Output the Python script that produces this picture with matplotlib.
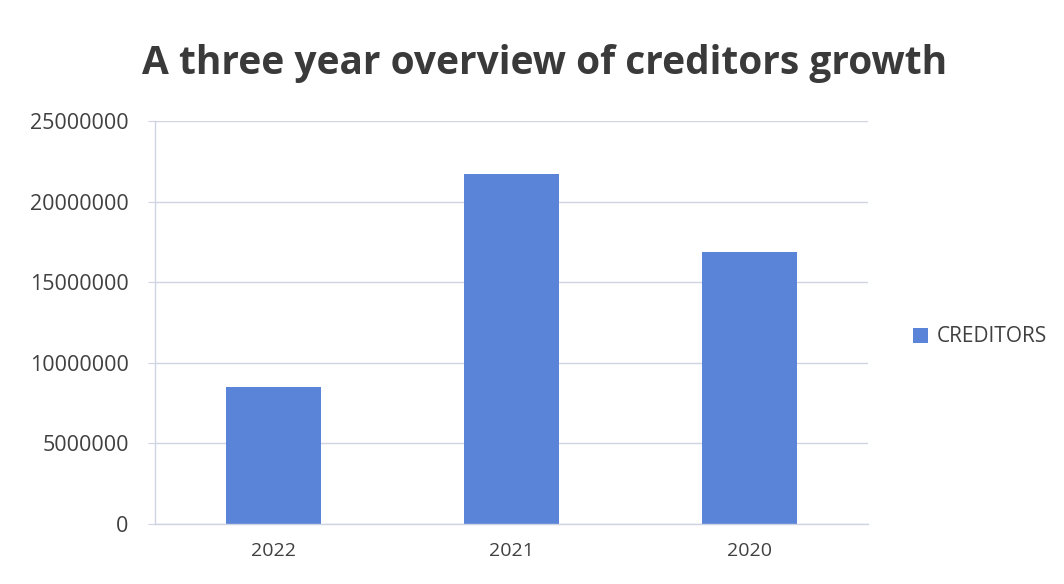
"""Creditors balance over three years, one bar per year."""
import matplotlib

matplotlib.use("Agg")
import matplotlib.pyplot as plt
from matplotlib.patches import Patch
from matplotlib.ticker import FuncFormatter, MultipleLocator

years = ["2022", "2021", "2020"]
creditors = [8500000, 21700000, 16900000]
series_name = "CREDITORS"
title = "A three year overview of creditors growth"

BAR = "#5A84D8"
TEXT = "#404040"
GRID = "#cfd3e2"

plt.rcParams["font.family"] = ["Open Sans", "DejaVu Sans"]

fig = plt.figure(figsize=(10.64, 5.84), dpi=100)
ax = fig.add_axes([0.1457, 0.1027, 0.670, 0.690])

x = range(len(years))
ax.bar(x, creditors, width=0.40, color=BAR, zorder=2)

ax.set_xlim(-0.5, len(years) - 0.5)
ax.set_ylim(0, 25000000)
ax.yaxis.set_major_locator(MultipleLocator(5000000))
ax.yaxis.set_major_formatter(FuncFormatter(lambda v, _: f"{int(v)}"))
ax.set_xticks(list(x))
ax.set_xticklabels(years)

ax.grid(axis="y", color=GRID, linewidth=1.0, zorder=0)
for side in ("top", "right"):
    ax.spines[side].set_visible(False)
for side in ("left", "bottom"):
    ax.spines[side].set_color(GRID)
    ax.spines[side].set_linewidth(1.0)

ax.tick_params(axis="y", length=5, color=GRID, labelsize=15.5, labelcolor=TEXT, pad=14)
ax.tick_params(axis="x", length=0, labelsize=14, labelcolor=TEXT, pad=13)

fig.text(0.512, 0.892, title, ha="center", va="center",
         fontsize=28, fontweight="bold", color="#3a3a3a")

fig.legend(handles=[Patch(facecolor=BAR, label=series_name)],
           loc="center left", bbox_to_anchor=(0.840, 0.423),
           frameon=False, fontsize=15, labelcolor=TEXT,
           handlelength=0.75, handleheight=0.75, handletextpad=0.4)

fig.savefig("out.png", dpi=100)
